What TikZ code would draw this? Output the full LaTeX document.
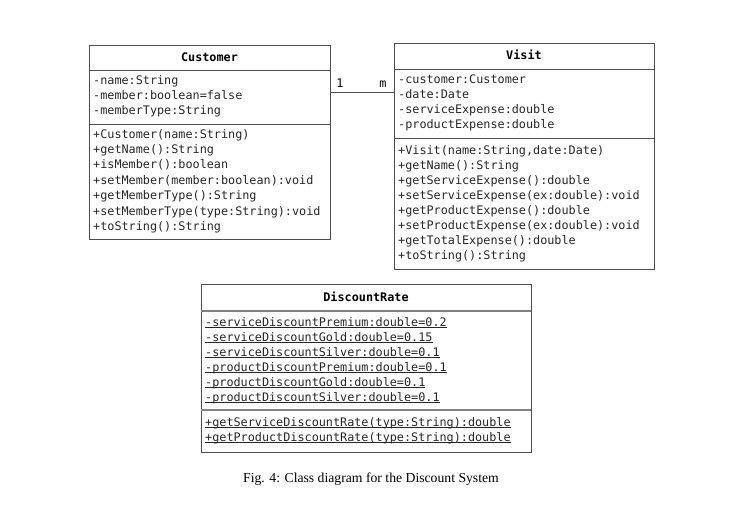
\documentclass[tikz,border=0pt]{standalone}
\usepackage{fontspec}
\setmainfont{Liberation Serif}
\newfontfamily\umlmono{DejaVu Sans Mono}
\definecolor{boxgray}{gray}{0.3}
\tikzset{
  classbox/.style={draw=boxgray, line width=0.9pt, rectangle, inner sep=0pt, anchor=north west},
  sepline/.style={draw=boxgray, line width=0.9pt},
  dsepline/.style={draw=boxgray!70, line width=1.6pt},
  txt/.style={anchor=base west, inner sep=0pt, font=\umlmono\fontsize{11.8}{14}\selectfont, text=black!85},
  ttl/.style={anchor=base, inner sep=0pt, font=\umlmono\bfseries\fontsize{11.8}{14}\selectfont},
  mult/.style={anchor=base, inner sep=0pt, font=\umlmono\fontsize{11.8}{14}\selectfont},
  assoc/.style={draw=boxgray, line width=0.9pt},
}
\begin{document}
\begin{tikzpicture}[x=1pt,y=-1pt]
\useasboundingbox (0,0) rectangle (736,509);
% Customer
\node[classbox, minimum width=241pt, minimum height=194pt] (cust) at (89,45) {};
\node[ttl] (cust-t) at (209.5,61) {Customer};
\draw[sepline] (89,70) -- (330,70);
\draw[sepline] (89,124) -- (330,124);
\foreach \t [count=\i] in {-name:String,-member:boolean=false,-memberType:String}
  \node[txt] (cust-a\i) at (93,84+15.4*\i-15.4) {\t};
\foreach \t [count=\i] in {+Customer(name:String),+getName():String,+isMember():boolean,+setMember(member:boolean):void,+getMemberType():String,+setMemberType(type:String):void,+toString():String}
  \node[txt] (cust-m\i) at (93,138+15.4*\i-15.4) {\t};
% Visit
\node[classbox, minimum width=260pt, minimum height=226pt] (visit) at (394,43) {};
\node[ttl] (visit-t) at (524,59) {Visit};
\draw[sepline] (394,69) -- (654,69);
\draw[sepline] (394,138) -- (654,138);
\foreach \t [count=\i] in {-customer:Customer,-date:Date,-serviceExpense:double,-productExpense:double}
  \node[txt] (visit-a\i) at (398,83+15.3*\i-15.3) {\t};
\foreach \t [count=\i] in {{+Visit(name:String,date:Date)},+getName():String,+getServiceExpense():double,+setServiceExpense(ex:double):void,+getProductExpense():double,+setProductExpense(ex:double):void,+getTotalExpense():double,+toString():String}
  \node[txt] (visit-m\i) at (398,154+15.0*\i-15.0) {\t};
% association
\coordinate (assocy) at (0,92);
\draw[assoc] (cust.north east |- assocy) -- (visit.north west |- assocy);
\node[mult] (m1) at (340,87) {1};
\node[mult] (m2) at (383,87) {m};
% DiscountRate
\node[classbox, minimum width=330pt, minimum height=168pt] (disc) at (201,284) {};
\node[ttl] (disc-t) at (366,301) {DiscountRate};
\draw[dsepline] (201,311) -- (531,311);
\draw[dsepline] (201,410) -- (531,410);
\foreach \t [count=\i] in {-serviceDiscountPremium:double=0.2,-serviceDiscountGold:double=0.15,-serviceDiscountSilver:double=0.1,-productDiscountPremium:double=0.1,-productDiscountGold:double=0.1,-productDiscountSilver:double=0.1}
  \node[txt] (disc-a\i) at (205,326+15*\i-15) {\underline{\smash{\t}}};
\foreach \t [count=\i] in {+getServiceDiscountRate(type:String):double,+getProductDiscountRate(type:String):double}
  \node[txt] (disc-m\i) at (205,426+15*\i-15) {\underline{\smash{\t}}};
% caption
\node[inner sep=0pt, font=\fontsize{13.7}{16}\selectfont] (cap) at (371,479) {Fig. 4: Class diagram for the Discount System};
\end{tikzpicture}
\end{document}
